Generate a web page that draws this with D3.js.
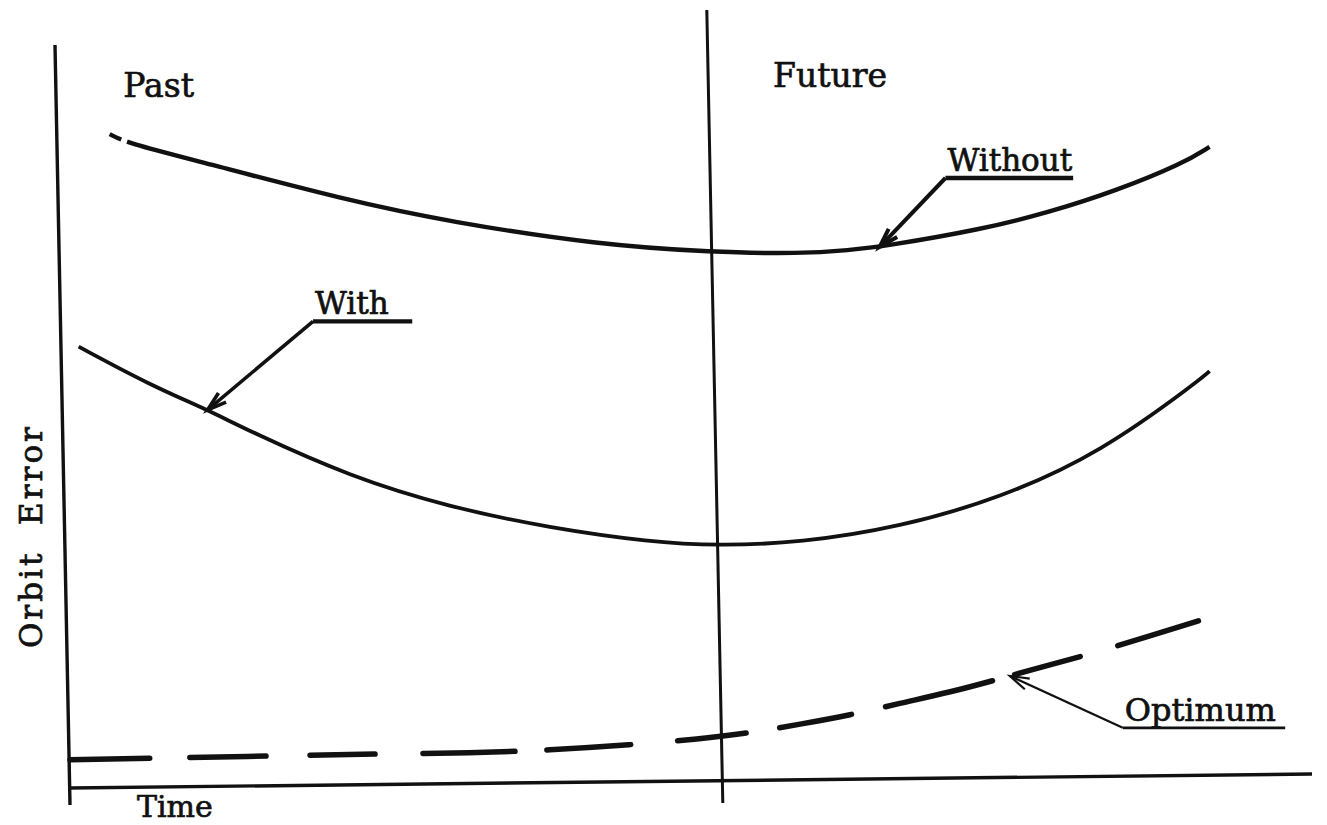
<!DOCTYPE html>
<html>
<head>
<meta charset="utf-8">
<script src="https://cdn.jsdelivr.net/npm/d3@7"></script>
<style>
  html, body { margin: 0; padding: 0; background: #fff; }
  svg { display: block; }
  text { font-family: "DejaVu Serif", "Liberation Serif", serif; fill: #111; stroke: #111; stroke-width: 0.7px; }
</style>
</head>
<body>
<svg id="chart" width="1327" height="825"></svg>
<script>
// ---- data (time 0..100, orbit error 0..100, arbitrary units) ----
const withoutTime  = [3.2, 4.6, 10.5, 22.3, 30.6, 42.7, 51.8, 58.9, 62.9, 65.6, 73.6, 79.0, 84.4, 89.8, 91.9];
const withoutError = [88.0, 86.8, 84.3, 79.1, 76.2, 73.1, 72.1, 71.9, 72.4, 72.9, 75.2, 77.5, 80.4, 84.1, 86.3];

const withTime  = [0.7, 6.5, 11.1, 14.5, 22.6, 30.6, 38.7, 46.8, 52.2, 58.9, 66.9, 75.0, 83.1, 91.1, 91.9];
const withError = [59.4, 54.2, 50.9, 48.0, 41.9, 37.8, 35.0, 33.1, 32.6, 33.0, 35.1, 39.0, 45.1, 54.9, 56.1];

const optimumTime  = [0, 6.5, 16.1, 25.0, 32.3, 38.7, 45.2, 50.8, 54.8, 58.9, 62.9, 66.9, 71.0, 75.0, 79.0, 83.1, 87.1, 91.0];
const optimumError = [3.8, 4.0, 4.3, 4.6, 4.7, 5.1, 5.8, 6.6, 7.4, 8.6, 9.8, 11.4, 12.9, 14.7, 16.6, 18.4, 20.5, 22.5];

const nowTime = 52.0;

const regionLabels = ["Past", "Future"];
const regionTime   = [4.3, 56.7];
const regionError  = [93.0, 94.3];

// annotations: label, underline start (time, error), underline end time, arrow tip time on its series
const noteLabels    = ["Without", "With", "Optimum"];
const noteTime      = [70.6, 19.6, 84.9];
const noteError     = [82.1, 62.8, 8.1];
const noteEndTime   = [80.9, 27.6, 98.0];
const noteTipTime   = [65.3, 11.1, 75.8];

const xAxisTitle = "Time";
const yAxisTitle = "Orbit  Error";

// ---- scales ----
const x = d3.scaleLinear().domain([0, 100]).range([70, 1310]);
const y = d3.scaleLinear().domain([0, 100]).range([788, 45]);

const svg = d3.select("#chart");
const g = svg.append("g");

const toPts = (ts, es) => ts.map((t, i) => [t, es[i]]);
const line = d3.line().x(d => x(d[0])).y(d => y(d[1])).curve(d3.curveBasis);

// ---- axes (hand-drawn style, slightly tilted) ----
g.append("line")
  .attr("x1", x(0) - 15).attr("y1", y(100))
  .attr("x2", x(0)).attr("y2", y(0) + 17)
  .attr("stroke", "#111").attr("stroke-width", 3.4);
g.append("line")
  .attr("x1", x(0)).attr("y1", y(0))
  .attr("x2", x(100) + 2).attr("y2", y(0) - 14)
  .attr("stroke", "#111").attr("stroke-width", 3.4);
// present-time divider
g.append("line")
  .attr("x1", x(nowTime) - 8).attr("y1", 10)
  .attr("x2", x(nowTime) + 8).attr("y2", y(0) + 15)
  .attr("stroke", "#111").attr("stroke-width", 3);

// ---- series ----
g.append("path")
  .attr("d", line(toPts(withoutTime, withoutError)))
  .attr("fill", "none").attr("stroke", "#111").attr("stroke-width", 4.4)
  .attr("stroke-dasharray", "13,6,4000");

g.append("path")
  .attr("d", line(toPts(withTime, withError)))
  .attr("fill", "none").attr("stroke", "#111").attr("stroke-width", 3.8);

g.append("path")
  .attr("d", line(toPts(optimumTime, optimumError)))
  .attr("fill", "none").attr("stroke", "#111").attr("stroke-width", 5.5)
  .attr("stroke-linecap", "round")
  .attr("stroke-dasharray", "80,40,76,44,65,48,92,32,84,47,69,34,73,35,110,23,68,39,93,60");

// ---- region labels ----
g.selectAll("text.region").data(regionLabels).enter().append("text")
  .attr("class", "region")
  .attr("x", (d, i) => x(regionTime[i]))
  .attr("y", (d, i) => y(regionError[i]))
  .attr("font-size", 33)
  .text(d => d);

// ---- annotations ----
const series = {
  "Without": toPts(withoutTime, withoutError),
  "With": toPts(withTime, withError),
  "Optimum": toPts(optimumTime, optimumError)
};
function valueAt(pts, t) {
  for (let i = 0; i < pts.length - 1; i++) {
    if (t >= pts[i][0] && t <= pts[i + 1][0]) {
      const f = (t - pts[i][0]) / (pts[i + 1][0] - pts[i][0]);
      return pts[i][1] + f * (pts[i + 1][1] - pts[i][1]);
    }
  }
  return pts[pts.length - 1][1];
}
const noteSizes = [31, 31, 32];
const noteStroke = [4, 3.6, 2.2];
noteLabels.forEach((lab, i) => {
  const ax = x(noteTime[i]), ay = y(noteError[i]);
  const bx = x(noteEndTime[i]);
  const tx = x(noteTipTime[i]), ty = y(valueAt(series[lab], noteTipTime[i]));
  g.append("line").attr("x1", ax).attr("y1", ay).attr("x2", bx).attr("y2", ay)
    .attr("stroke", "#111").attr("stroke-width", noteStroke[i] + 0.6);
  g.append("line").attr("x1", ax).attr("y1", ay).attr("x2", tx).attr("y2", ty)
    .attr("stroke", "#111").attr("stroke-width", noteStroke[i]);
  const ang = Math.atan2(ay - ty, ax - tx);
  const L = 20, spread = 0.3;
  const p1 = [tx + L * Math.cos(ang - spread), ty + L * Math.sin(ang - spread)];
  const p2 = [tx + L * Math.cos(ang + spread), ty + L * Math.sin(ang + spread)];
  g.append("path")
    .attr("d", `M${p1[0]},${p1[1]}L${tx},${ty}L${p2[0]},${p2[1]}`)
    .attr("fill", "none").attr("stroke", "#111").attr("stroke-width", noteStroke[i]);
  g.append("text").attr("x", ax + 2).attr("y", ay - 7)
    .attr("font-size", noteSizes[i]).text(lab);
});

// ---- axis titles ----
g.append("text").attr("x", x(5.4)).attr("y", y(-3.9))
  .attr("font-size", 30).text(xAxisTitle);
g.append("text")
  .attr("transform", `translate(${x(0) - 28},${y(33.7)}) rotate(-90)`)
  .attr("text-anchor", "middle")
  .attr("font-size", 31)
  .attr("textLength", 221).attr("lengthAdjust", "spacing")
  .style("white-space", "pre")
  .text(yAxisTitle);
</script>
</body>
</html>
